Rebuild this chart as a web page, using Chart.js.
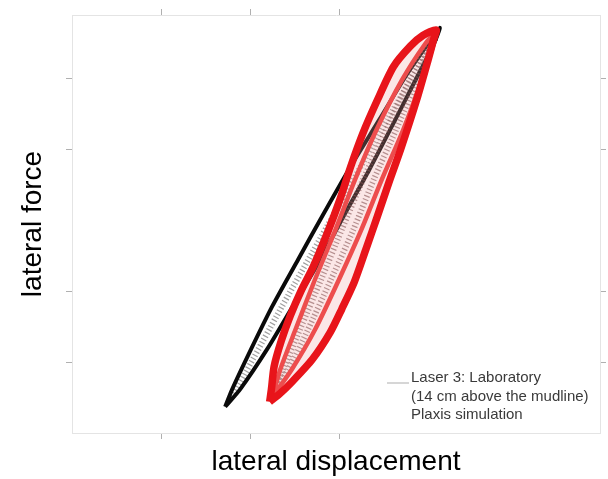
<!DOCTYPE html>
<html>
<head>
<meta charset="utf-8">
<script src="https://cdn.jsdelivr.net/npm/chart.js@4.4.1/dist/chart.umd.min.js"></script>
<style>
    html, body { margin: 0; padding: 0; background: #fff; }
    #wrap { width: 608px; height: 479px; position: relative; }
</style>
</head>
<body>
<div id="wrap"><canvas id="loopChart"></canvas></div>
<script>
// laser 3 laboratory loop (14 cm above the mudline)
const labX = [-1.28, -1.11, -0.81, -0.52, -0.21, 0.05, 0.34, 0.63, 0.89, 1.06, 1.13,
              0.99, 0.76, 0.45, 0.11, -0.19, -0.46, -0.75, -0.99, -1.20, -1.28];
const labY = [-2.63, -2.38, -1.82, -1.21, -0.55, 0.06, 0.72, 1.42, 2.06, 2.48, 2.72,
              2.48, 2.06, 1.42, 0.72, 0.06, -0.55, -1.21, -1.82, -2.38, -2.63];

// hatching along the laboratory loop
const labHatchX = [-1.20, -0.64, -0.07, 0.54, 1.09];
const labHatchY = [-2.49, -1.21, 0.06, 1.42, 2.58];

// plaxis simulation, outer cycle
const plaxisOuterX = [-0.78, -0.67, -0.53, -0.30, -0.10, 0.03, 0.17, 0.30, 0.43, 0.56, 0.69, 0.87, 1.00, 1.06, 1.09,
                      0.94, 0.80, 0.61, 0.43, 0.27, 0.13, 0.01, -0.13, -0.29, -0.43, -0.55, -0.65, -0.73, -0.76, -0.78];
const plaxisOuterY = [-2.56, -2.45, -2.28, -1.96, -1.58, -1.25, -0.87, -0.41, 0.06, 0.54, 1.00, 1.70, 2.27, 2.55, 2.69,
                      2.61, 2.46, 2.17, 1.70, 1.24, 0.76, 0.30, -0.17, -0.65, -1.00, -1.35, -1.70, -2.06, -2.38, -2.56];

// plaxis simulation, inner cycle
const plaxisInnerX = [-0.75, -0.53, -0.27, 0.00, 0.25, 0.48, 0.72, 0.93, 1.06, 1.07,
                      0.96, 0.71, 0.42, 0.18, -0.04, -0.27, -0.49, -0.66, -0.75];
const plaxisInnerY = [-2.49, -2.10, -1.54, -0.83, -0.13, 0.58, 1.28, 1.99, 2.48, 2.63,
                      2.48, 1.99, 1.28, 0.58, -0.13, -0.83, -1.54, -2.10, -2.49];

// plaxis simulation markers between the cycles
const plaxisDotsX = [-0.74, -0.57, -0.35, -0.09, 0.16, 0.39, 0.64, 0.88, 1.00, 1.02,
                     0.96, 0.79, 0.53, 0.27, 0.03, -0.20, -0.44, -0.63, -0.74];
const plaxisDotsY = [-2.41, -2.10, -1.54, -0.83, -0.13, 0.58, 1.28, 1.99, 2.41, 2.52,
                     2.41, 1.99, 1.28, 0.58, -0.13, -0.83, -1.54, -2.10, -2.41];

const xTickValues = [-2, -1, 0];
const yTickValues = [-2, -1, 1, 2];

const legendLines = ['Laser 3: Laboratory', '(14 cm above the mudline)', 'Plaxis simulation'];

const FONT = "'Liberation Sans', Arial, sans-serif";

function toPoints(xs, ys) {
    return xs.map((x, i) => ({ x: x, y: ys[i] }));
}

// legend text in the lower right corner
const legendPlugin = {
    id: 'legendPlugin',
    afterDraw(chart) {
        const ctx = chart.ctx;
        ctx.save();
        ctx.strokeStyle = '#c8c8c8';
        ctx.lineWidth = 1.5;
        ctx.beginPath();
        ctx.moveTo(387, 383);
        ctx.lineTo(409, 383);
        ctx.stroke();

        ctx.font = '15px ' + FONT;
        ctx.fillStyle = '#3a3a3a';
        ctx.textAlign = 'left';
        ctx.textBaseline = 'middle';
        legendLines.forEach((t, i) => {
            ctx.fillText(t, 411, 378 + i * 18.5);
        });
        ctx.restore();
    }
};

function tickScale(position, values, size, title) {
    const s = {
        type: 'linear',
        position: position,
        border: { display: true, color: '#e4e4e4', width: 1 },
        grid: { display: true, drawOnChartArea: false, drawTicks: true, tickLength: 6, color: '#b0b0b0' },
        ticks: { display: false },
        afterBuildTicks: scale => {
            scale.ticks = values.map(v => ({ value: v }));
        },
        afterFit: scale => {
            if (position === 'left' || position === 'right') scale.width = size;
            else scale.height = size;
        }
    };
    if (title) {
        s.title = {
            display: true,
            text: title,
            color: '#000',
            font: { family: FONT, size: 28 },
            padding: position === 'left' ? { top: 16, bottom: 0 } : { top: 0, bottom: 0 }
        };
    }
    return s;
}

const xMain = tickScale('bottom', xTickValues, 46, 'lateral displacement');
xMain.min = -3; xMain.max = 2.93;
const xTop = tickScale('top', xTickValues, 15);
xTop.min = -3; xTop.max = 2.93;
const yMain = tickScale('left', yTickValues, 72, 'lateral force');
yMain.min = -3; yMain.max = 2.9;
const yRight = tickScale('right', yTickValues, 8);
yRight.min = -3; yRight.max = 2.9;

new Chart(document.getElementById('loopChart'), {
    type: 'scatter',
    data: {
        datasets: [
            {
                label: 'Plaxis simulation',
                data: toPoints(plaxisOuterX, plaxisOuterY),
                showLine: true,
                borderColor: '#e8141a',
                borderWidth: 7.5,
                backgroundColor: 'rgba(240, 160, 160, 0.25)',
                fill: 'shape',
                tension: 0.25,
                pointRadius: 0,
                order: 1
            },
            {
                label: 'Plaxis inner cycle',
                data: toPoints(plaxisInnerX, plaxisInnerY),
                showLine: true,
                borderColor: '#ec3232',
                borderWidth: 4.5,
                tension: 0.25,
                pointRadius: 0,
                order: 2
            },
            {
                label: 'Plaxis markers',
                data: toPoints(plaxisDotsX, plaxisDotsY),
                showLine: true,
                borderColor: 'rgba(100, 60, 60, 0.6)',
                borderWidth: 6,
                borderDash: [1.2, 2.4],
                tension: 0.25,
                pointRadius: 0,
                order: 3
            },
            {
                label: 'Laser 3: Laboratory',
                data: toPoints(labX, labY),
                showLine: true,
                borderColor: '#0a0a0a',
                borderWidth: 4,
                tension: 0.25,
                pointRadius: 0,
                order: 4
            },
            {
                label: 'Laboratory markers',
                data: toPoints(labHatchX, labHatchY),
                showLine: true,
                borderColor: 'rgba(80, 80, 80, 0.55)',
                borderWidth: 6,
                borderDash: [1.2, 2.4],
                tension: 0.2,
                pointRadius: 0,
                order: 5
            }
        ]
    },
    options: {
        responsive: true,
        maintainAspectRatio: false,
        animation: false,
        layout: { padding: 0 },
        plugins: {
            legend: { display: false },
            tooltip: { enabled: false }
        },
        scales: {
            x: xMain,
            x2: xTop,
            y: yMain,
            y2: yRight
        }
    },
    plugins: [legendPlugin]
});
</script>
</body>
</html>
